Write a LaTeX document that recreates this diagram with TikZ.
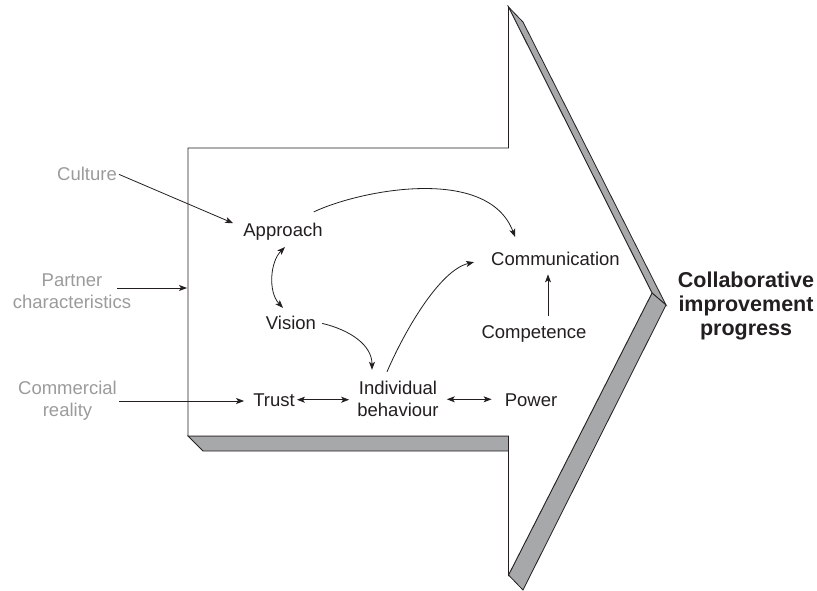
\documentclass[tikz,border=0pt]{standalone}
\usepackage{fontspec}
\setmainfont{Liberation Sans}
\usetikzlibrary{arrows.meta,calc}
\definecolor{bandgray}{HTML}{A7A8AA}
\definecolor{labgray}{HTML}{9B9B9B}
\definecolor{ink}{HTML}{231F20}
\begin{document}
\begin{tikzpicture}[x=1pt,y=-1pt,
  lbl/.style={font=\fontsize{18.5}{22}\selectfont, text=ink, inner sep=2pt},
  glbl/.style={lbl, text=labgray, align=center},
  arr/.style={draw=ink, line width=0.8pt, -{Stealth[length=8pt,width=6pt,inset=2pt]}},
  darr/.style={arr, {Stealth[length=8pt,width=6pt,inset=2pt]}-{Stealth[length=8pt,width=6pt,inset=2pt]}},
  face/.style={draw=ink, line width=0.8pt, line join=miter}]
\useasboundingbox (0,0) rectangle (817,591);
% side bands of the 3D arrow
\draw[face, fill=bandgray] (188,436) -- (508.5,436) -- (508.5,451) -- (203,451) -- cycle;
\draw[face, fill=bandgray] (508.5,7) -- (523,22) -- (666,305) -- (652,293) -- cycle;
\draw[face, fill=bandgray] (652,293) -- (666,305) -- (523,590) -- (508.5,575) -- cycle;
% front face
\draw[face, fill=white] (188,148) -- (508.5,148) -- (508.5,7) -- (652,293) -- (508.5,575) -- (508.5,436) -- (188,436) -- cycle;
\coordinate (inP) at (187,288);
% labels
\node[lbl, anchor=base] (approach) at (283,236) {Approach};
\node[lbl, anchor=base] (communication) at (555.5,265) {Communication};
\node[lbl, anchor=base] (vision) at (291,329) {Vision};
\node[lbl, anchor=base] (competence) at (534,338) {Competence};
\node[lbl, anchor=base] (trust) at (274,406) {Trust};
\node[lbl, anchor=base] (power) at (531,406) {Power};
\node[lbl, align=center] (individual) at (398,399.3) {Individual\\behaviour};
\node[glbl, anchor=base] (culture) at (87,181) {Culture};
\node[glbl] (partner) at (72,291) {Partner\\characteristics};
\node[glbl] (commercial) at (67.5,401) {Commercial\\reality};
\node[font=\bfseries\fontsize{21.5}{24}\selectfont, text=ink, align=center] (result) at (746,305.5) {Collaborative\\improvement\\progress};
% connectors
\draw[arr] (culture.east) -- ($(approach.west)+(-8,-8)$);
\draw[arr] ($(partner.east)+(-16,-3)$) -- (inP);
\draw[arr] (commercial.east) -- ($(commercial.east -| trust.west)+(-7,0)$);
\draw[darr] (trust.east) -- ($(trust.east -| individual.west)+(-6,0)$);
\draw[darr] ($(individual.east)+(6,0)$) -- ($(individual.east -| power.west)+(-11,0)$);
\draw[arr] ($(competence.north)+(14,-7)$) -- ($(communication.south)+(-7.5,7)$);
\draw[arr] ($(approach.north east)+(-11,-8.5)$) .. controls (360,190) and (488,165) .. ($(communication.north)+(-40.5,-12.5)$);
\draw[darr] ($(approach.south)+(2,5)$) .. controls (270,262) and (268,292) .. ($(vision.north)+(-8,-5.5)$);
\draw[arr] ($(vision.east)+(4,1)$) .. controls (350,330) and (372,345) .. ($(individual.north)+(-26,-9.5)$);
\draw[arr] ($(individual.north)+(-11,-7.5)$) .. controls (405,330) and (440,270) .. ($(communication.west)+(-15,3.75)$);
\end{tikzpicture}
\end{document}
